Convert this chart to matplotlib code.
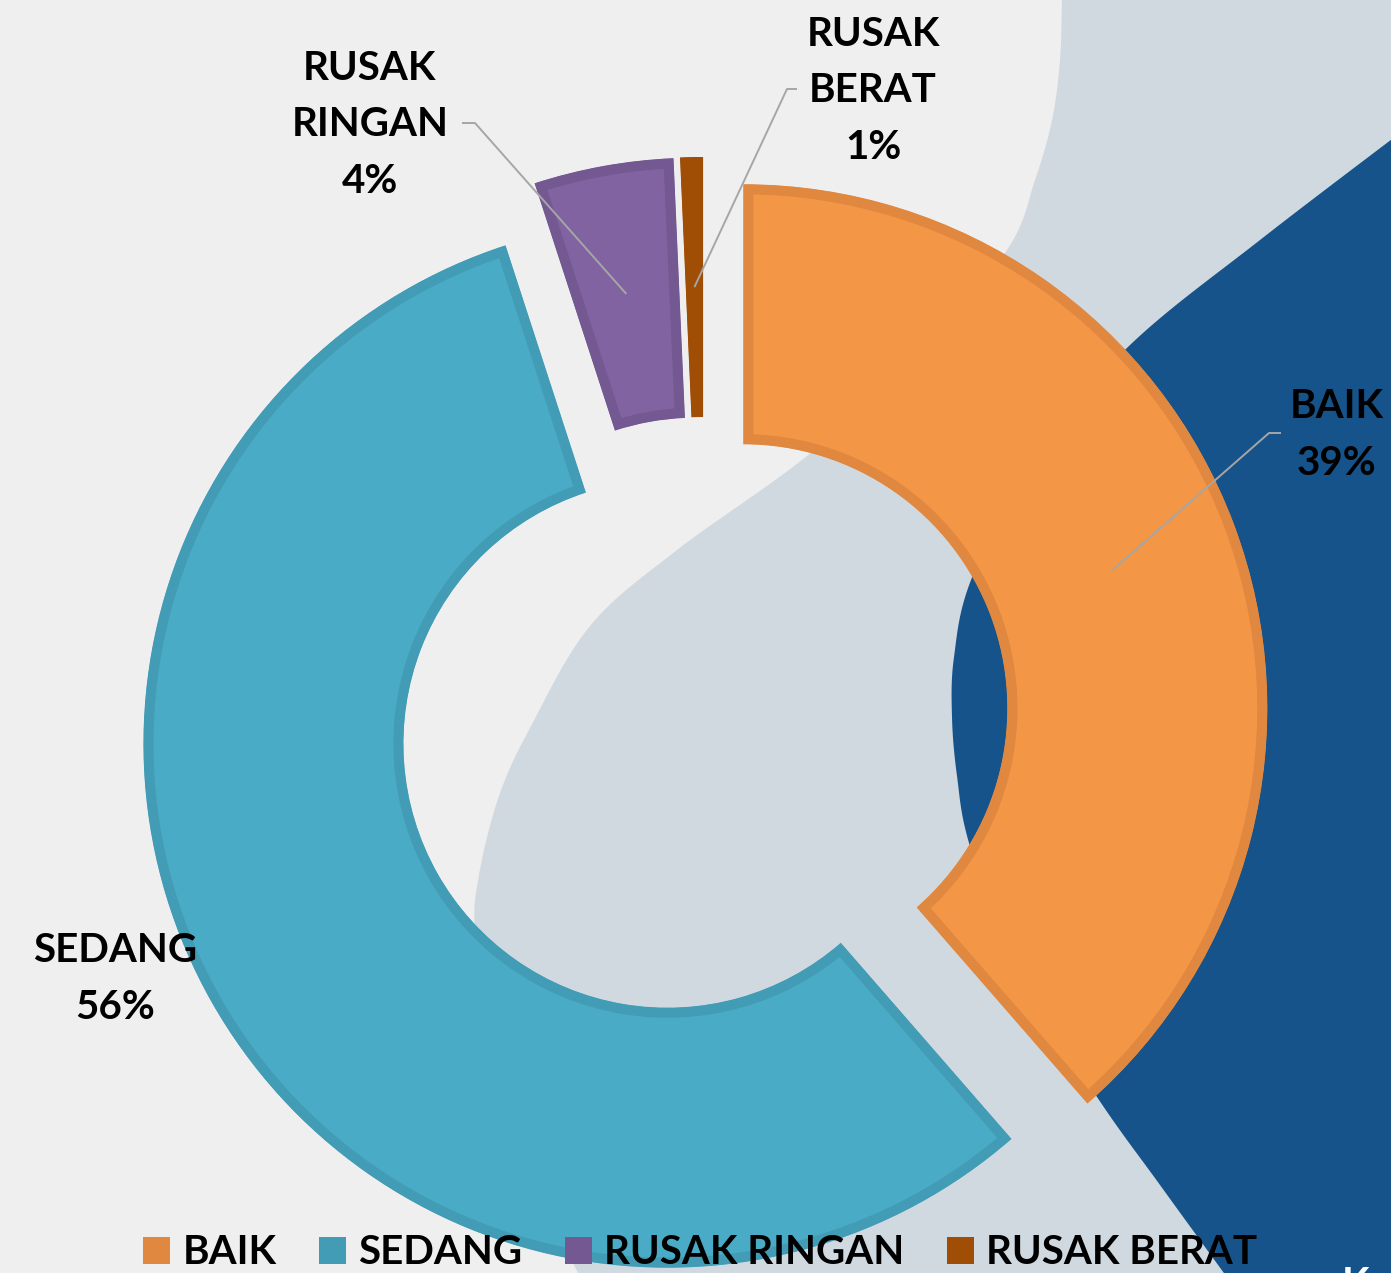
import numpy as np
import matplotlib
matplotlib.use('Agg')
import matplotlib.pyplot as plt
from matplotlib.patches import Polygon, Rectangle

# ---------------- data ----------------
categories = ['BAIK', 'SEDANG', 'RUSAK RINGAN', 'RUSAK BERAT']
share = [38.6, 56.4, 4.3, 0.7]          # percent (labels show rounded values)
colors = ['#F39646', '#4AABC6', '#8063A0', '#A04D05']
edge_colors = ['#E08740', '#439CB6', '#745891', '#A04D05']

W, H = 1391, 1273
FONT = 'Lato'

fig = plt.figure(figsize=(W / 100, H / 100), dpi=100)
fig.patch.set_facecolor('#EFEFEF')
ax = fig.add_axes([0, 0, 1, 1])
ax.set_facecolor('#EFEFEF')


def img(pts):
    return [(x, H - y) for x, y in pts]


def smooth(pts, n=24):
    pts = np.asarray(pts, float)
    P = np.vstack([pts[0], pts, pts[-1]])
    out = []
    for i in range(1, len(P) - 2):
        p0, p1, p2, p3 = P[i - 1], P[i], P[i + 1], P[i + 2]
        for t in np.linspace(0, 1, n, endpoint=False):
            t2, t3 = t * t, t * t * t
            out.append(0.5 * ((2 * p1) + (-p0 + p2) * t
                              + (2 * p0 - 5 * p1 + 4 * p2 - p3) * t2
                              + (-p0 + 3 * p1 - 3 * p2 + p3) * t3))
    out.append(P[-2])
    return [tuple(p) for p in out]


# ---------------- decorative background ----------------
light_edge = [(1062, -5), (1060, 60), (1052, 120), (1035, 180), (1007, 250),
              (920, 355), (807, 456), (677, 550), (590, 626), (530, 728),
              (499, 796), (479, 875), (475, 935), (490, 1060), (525, 1170),
              (582, 1280)]
light = smooth(light_edge) + [(1400, 1280), (1400, -5)]
ax.add_patch(Polygon(img(light), closed=True, facecolor='#D0D9E0',
                     edgecolor='none', zorder=0))

dark_edge = [(1400, 133), (1260, 240), (1130, 345), (1030, 460), (971, 580),
             (954, 657), (952, 717), (957, 776), (969, 843), (1010, 960),
             (1097, 1097), (1160, 1185), (1229, 1280)]
dark = smooth(dark_edge) + [(1400, 1280)]
ax.add_patch(Polygon(img(dark), closed=True, facecolor='#15538A',
                     edgecolor='none', zorder=0.5))

# ---------------- donut ----------------
wedges, _ = ax.pie(share, radius=524, center=(704, H - 723), startangle=90,
                   counterclock=False, explode=[42] * len(share),
                   colors=colors,
                   wedgeprops=dict(width=260, linewidth=14.5, joinstyle='miter'))
for w, ec in zip(wedges, edge_colors):
    w.set_edgecolor(ec)
    w.set_zorder(2)
    w.set_clip_on(True)
    w.set_clip_path(w)   # keep only the inner half of the border (inset border)

ax.set_xlim(0, W)
ax.set_ylim(0, H)
ax.set_aspect('auto')
ax.axis('off')


def mid_point(w):
    th = np.deg2rad((w.theta1 + w.theta2) / 2)
    rr = w.r - w.width / 2
    return w.center[0] + rr * np.cos(th), w.center[1] + rr * np.sin(th)


# ---------------- labels & leaders ----------------
label_pos = {'BAIK': (1337, 435), 'SEDANG': (115, 979),
             'RUSAK RINGAN': (370, 125), 'RUSAK BERAT': (873, 91)}
leader_start = {'BAIK': [(1281, 433), (1269, 433)],
                'RUSAK RINGAN': [(462, 123), (475, 123)],
                'RUSAK BERAT': [(797, 89), (787, 89)]}

for w, cat, p in zip(wedges, categories, share):
    x, y = label_pos[cat]
    txt = cat.replace(' ', '\n') + f'\n{round(p)}%'
    ax.text(x, H - y, txt, ha='center', va='center', ma='center',
            fontsize=29, fontweight='bold', family=FONT, color='black',
            linespacing=1.65, zorder=4)
    if cat in leader_start:
        pts = img(leader_start[cat]) + [mid_point(w)]
        xs, ys = zip(*pts)
        ax.plot(xs, ys, color='#A6A6A6', lw=1.4, zorder=3,
                solid_capstyle='butt')

# ---------------- legend ----------------
handles = [Rectangle((0, 0), 1, 1, facecolor=c, edgecolor=c, lw=0)
           for c in edge_colors]
leg = ax.legend(handles, categories, loc='center',
                bbox_to_anchor=(700 / W, (H - 1253) / H), ncol=4,
                frameon=False, handlelength=0.68, handleheight=0.68,
                handletextpad=0.30, columnspacing=1.05, borderpad=0,
                borderaxespad=0,
                prop=dict(family=FONT, weight='bold', size=29))
for t in leg.get_texts():
    t.set_color('black')

# partially visible white letter at bottom-right corner
ax.text(1342, H - 1266, 'K', color='white', fontsize=29, fontweight='bold',
        family=FONT, ha='left', va='top', zorder=4)

fig.savefig('out.png', dpi=100, facecolor=fig.get_facecolor())
